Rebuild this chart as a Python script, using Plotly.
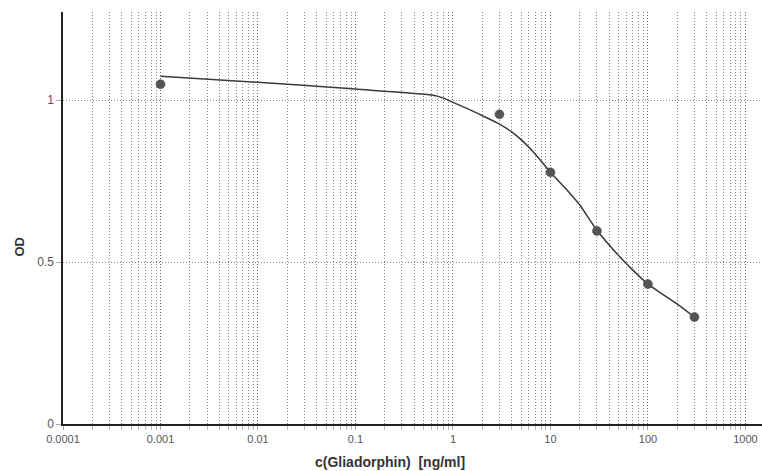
import plotly.graph_objects as go

# Measured standards
conc = [0.001, 3, 10, 30, 100, 300]
od = [1.049, 0.956, 0.777, 0.596, 0.432, 0.330]

# Fitted curve
curve_x = [0.001, 0.01, 0.1, 0.63, 0.8, 1, 1.5, 2, 3, 4, 5, 7, 10, 15, 20, 30, 50, 70, 100, 200, 300]
curve_y = [1.074, 1.055, 1.034, 1.015, 1.006, 0.993, 0.970, 0.952, 0.926, 0.902, 0.878, 0.833, 0.777, 0.720, 0.676, 0.598, 0.520, 0.475, 0.432, 0.370, 0.330]

x_tickvals = [0.0001, 0.001, 0.01, 0.1, 1, 10, 100, 1000]
x_ticktext = ["0.0001", "0.001", "0.01", "0.1", "1", "10", "100", "1000"]
y_tickvals = [0, 0.5, 1]
y_ticktext = ["0", "0.5", "1"]

fig = go.Figure()
fig.add_trace(go.Scatter(x=curve_x, y=curve_y, mode="lines", line_shape="spline",
                         line=dict(color="#3a3a3a", width=1.5, smoothing=0.6), showlegend=False,
                         hoverinfo="skip"))
fig.add_trace(go.Scatter(x=conc, y=od, mode="markers",
                         marker=dict(color="#555555", size=9,
                                     line=dict(color="#444444", width=0.5)),
                         showlegend=False))

fig.update_layout(
    width=762, height=471,
    margin=dict(l=63, r=0, t=12, b=47),
    paper_bgcolor="white", plot_bgcolor="white",
    font=dict(family="Liberation Sans, Arial, sans-serif", size=11, color="#555555"),
    xaxis=dict(
        type="log", range=[-4, 3.17], automargin=False,
        tickvals=x_tickvals, ticktext=x_ticktext,
        showgrid=True, gridcolor="#666666", gridwidth=1, griddash="1px,2px",
        minor=dict(showgrid=True, dtick="D1", gridcolor="#888888", gridwidth=1,
                   griddash="1px,2px", ticks="outside", ticklen=4, tickcolor="#bbbbbb"),
        ticks="outside", ticklen=4, tickcolor="#aaaaaa",
        showline=True, linecolor="#222222", linewidth=1.5,
        zeroline=False, tickfont=dict(size=11, color="#555555"),
    ),
    yaxis=dict(
        range=[0, 1.272], automargin=False,
        tickvals=y_tickvals, ticktext=y_ticktext,
        showgrid=True, gridcolor="#888888", gridwidth=1, griddash="1px,2px",
        ticks="outside", ticklen=5, tickcolor="#aaaaaa",
        showline=True, linecolor="#222222", linewidth=1.5,
        zeroline=False, tickfont=dict(size=12, color="#555555"),
    ),
    annotations=[
        dict(text="<b>c(Gliadorphin)  [ng/ml]</b>", xref="paper", yref="paper",
             x=0.468, y=-0.093, xanchor="center", yanchor="middle", showarrow=False,
             font=dict(size=14, color="#333333")),
        dict(text="<b>OD</b>", xref="paper", yref="paper",
             x=-0.062, y=0.43, xanchor="center", yanchor="middle", showarrow=False,
             textangle=-90, font=dict(size=13, color="#333333")),
    ],
)

# remove the default page margin so the 762x471 figure fills the window exactly
fig.write_html("out.html", config={"displayModeBar": False},
               post_script="document.body.style.margin='0';document.body.style.overflow='hidden';")
